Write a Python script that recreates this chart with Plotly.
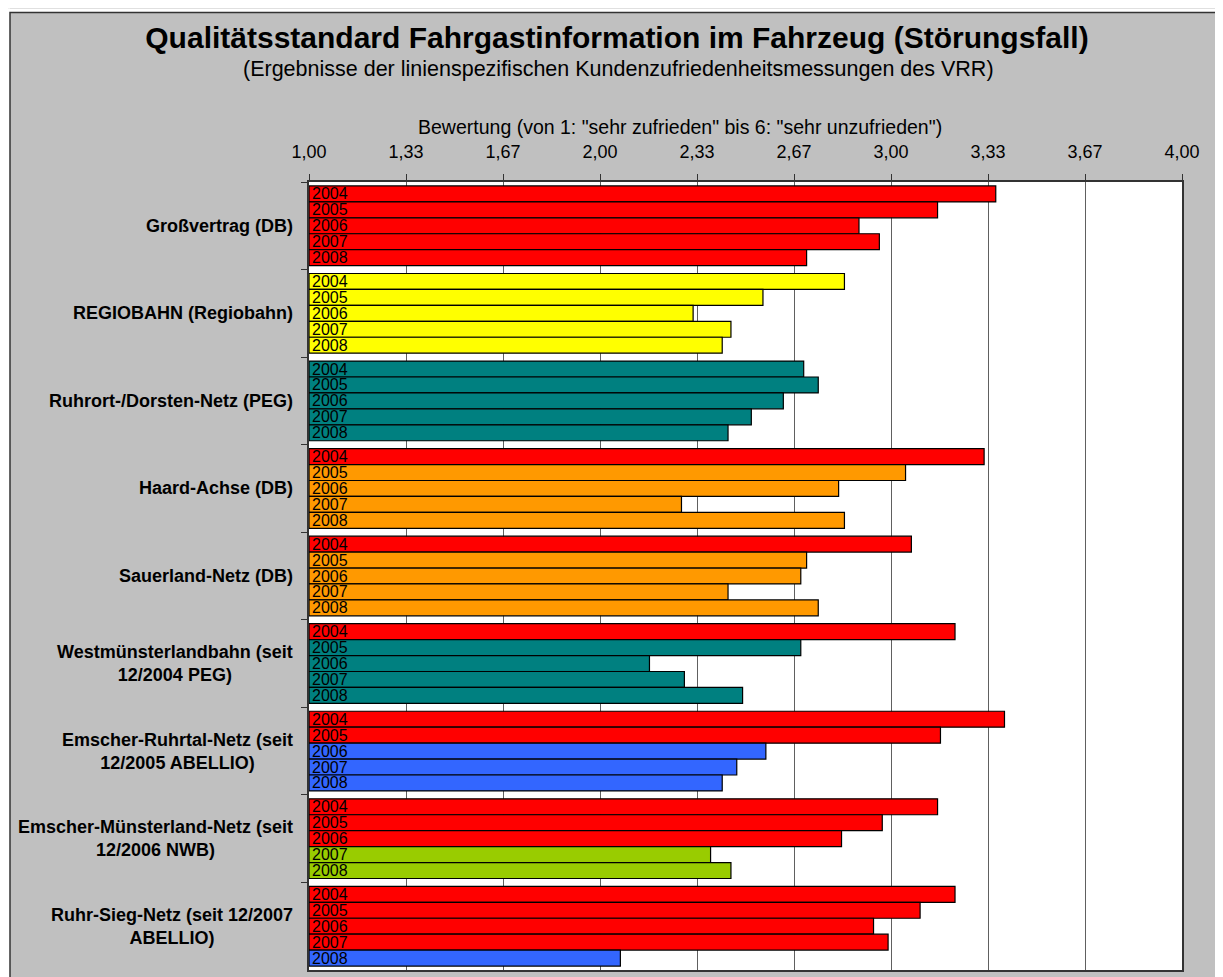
import plotly.graph_objs as go

#############
#   DATA    #
#############

groups = [
    "Großvertrag (DB)",
    "REGIOBAHN (Regiobahn)",
    "Ruhrort-/Dorsten-Netz (PEG)",
    "Haard-Achse (DB)",
    "Sauerland-Netz (DB)",
    "Westmünsterlandbahn (seit<br>12/2004 PEG)",
    "Emscher-Ruhrtal-Netz (seit<br>12/2005 ABELLIO)",
    "Emscher-Münsterland-Netz (seit<br>12/2006 NWB)",
    "Ruhr-Sieg-Netz (seit 12/2007<br>ABELLIO)",
]

years = ["2004", "2005", "2006", "2007", "2008"]

# one list per year, in the order of the groups
values_2004 = [3.36, 2.84, 2.70, 3.32, 3.07, 3.22, 3.39, 3.16, 3.22]
values_2005 = [3.16, 2.56, 2.75, 3.05, 2.71, 2.69, 3.17, 2.97, 3.10]
values_2006 = [2.89, 2.32, 2.63, 2.82, 2.69, 2.17, 2.57, 2.83, 2.94]
values_2007 = [2.96, 2.45, 2.52, 2.28, 2.44, 2.29, 2.47, 2.38, 2.99]
values_2008 = [2.71, 2.42, 2.44, 2.84, 2.75, 2.49, 2.42, 2.45, 2.07]

# operator of each bar (rows = groups, columns = years)
operators = [
    ["DB", "DB", "DB", "DB", "DB"],
    ["Regiobahn", "Regiobahn", "Regiobahn", "Regiobahn", "Regiobahn"],
    ["PEG", "PEG", "PEG", "PEG", "PEG"],
    ["DB", "DB neu", "DB neu", "DB neu", "DB neu"],
    ["DB", "DB neu", "DB neu", "DB neu", "DB neu"],
    ["DB", "PEG", "PEG", "PEG", "PEG"],
    ["DB", "DB", "ABELLIO", "ABELLIO", "ABELLIO"],
    ["DB", "DB", "DB", "NWB", "NWB"],
    ["DB", "DB", "DB", "DB", "ABELLIO"],
]

tick_values = [1, 4 / 3, 5 / 3, 2, 7 / 3, 8 / 3, 3, 10 / 3, 11 / 3, 4]
tick_labels = ["1,00", "1,33", "1,67", "2,00", "2,33", "2,67", "3,00", "3,33", "3,67", "4,00"]

title_text = "Qualitätsstandard Fahrgastinformation im Fahrzeug (Störungsfall)"
subtitle_text = "(Ergebnisse der linienspezifischen Kundenzufriedenheitsmessungen des VRR)"
axis_text = 'Bewertung (von 1: "sehr zufrieden" bis 6: "sehr unzufrieden")'

#############
#  STYLES   #
#############

operator_color = {
    "DB": "#FF0000",
    "DB neu": "#FF9900",
    "Regiobahn": "#FFFF00",
    "PEG": "#008080",
    "ABELLIO": "#3366FF",
    "NWB": "#99CC00",
}

FONT = "Liberation Sans, Arial, sans-serif"
GRAY = "#C0C0C0"

# figure size (the page adds an 8px body margin)
W, H = 1215, 969
ML, MR, MT, MB = 301, 41, 174, 5
plot_w = W - ML - MR
plot_h = H - MT - MB

def px_x(p):
    """figure pixel x -> paper coordinate"""
    return (p - ML) / plot_w

def px_y(p):
    """figure pixel y -> paper coordinate"""
    return (H - MB - p) / plot_h

#############
#  FIGURE   #
#############

fig = go.Figure()

all_values = [values_2004, values_2005, values_2006, values_2007, values_2008]

for i, year in enumerate(years):
    vals = all_values[i]
    fig.add_trace(
        go.Bar(
            y = groups,
            x = [v - 1 for v in vals],
            base = 1,
            orientation = "h",
            name = year,
            text = [year] * len(groups),
            textposition = "inside",
            insidetextanchor = "start",
            textangle = 0,
            constraintext = "none",
            textfont = {"family": FONT, "size": 16, "color": "black"},
            marker = {
                "color": [operator_color[row[i]] for row in operators],
                "line": {"color": "black", "width": 1.2},
            },
            showlegend = False,
            hoverinfo = "skip",
        )
    )

fig.update_layout(
    width = W,
    height = H,
    margin = {"l": ML, "r": MR, "t": MT, "b": MB},
    paper_bgcolor = GRAY,
    plot_bgcolor = "white",
    barmode = "group",
    bargap = 0.09,
    bargroupgap = 0,
    font = {"family": FONT, "color": "black"},
    title = {
        "text": "<b>" + title_text + "</b>",
        "x": 609 / W,
        "xanchor": "center",
        "y": 1 - 29 / H,
        "yanchor": "middle",
        "font": {"size": 30, "family": FONT, "color": "black"},
    },
)

fig.update_xaxes(
    range = [1, 4],
    side = "top",
    tickvals = tick_values,
    ticktext = tick_labels,
    tickfont = {"size": 18},
    ticks = "outside",
    ticklen = 6,
    tickcolor = "#333333",
    ticklabelstandoff = 9,
    showgrid = True,
    gridcolor = "#606060",
    gridwidth = 1,
    showline = True,
    mirror = True,
    linecolor = "#333333",
    linewidth = 2,
    zeroline = False,
    fixedrange = True,
)

fig.update_yaxes(
    type = "category",
    autorange = "reversed",
    showticklabels = False,
    ticks = "outside",
    tickson = "boundaries",
    ticklen = 6,
    tickcolor = "#333333",
    showgrid = False,
    showline = True,
    mirror = True,
    linecolor = "#333333",
    linewidth = 2,
    fixedrange = True,
)

# group labels left of the plot, centred lines
for g in groups:
    fig.add_annotation(
        x = 0,
        xref = "paper",
        xshift = -14,
        xanchor = "right",
        y = g,
        yref = "y",
        yanchor = "middle",
        text = "<b>" + g + "</b>",
        align = "center",
        showarrow = False,
        font = {"size": 18, "family": FONT, "color": "black"},
    )

# subtitle and axis caption
fig.add_annotation(
    x = px_x(610), xref = "paper", xanchor = "center",
    y = px_y(61), yref = "paper", yanchor = "middle",
    text = subtitle_text,
    showarrow = False,
    font = {"size": 21.5, "family": FONT, "color": "black"},
)
fig.add_annotation(
    x = px_x(672), xref = "paper", xanchor = "center",
    y = px_y(119), yref = "paper", yanchor = "middle",
    text = axis_text,
    showarrow = False,
    font = {"size": 19.5, "family": FONT, "color": "black"},
)

# white frame around the gray chart area, with a dark border
for x0, x1, y0, y1 in [
    (0, W, 0, 4),
    (0, 2, 0, H + 10),
    (1210, W + 5, 0, H + 10),
]:
    fig.add_shape(
        type = "rect", xref = "paper", yref = "paper",
        x0 = px_x(x0), x1 = px_x(x1), y0 = px_y(y1), y1 = px_y(y0),
        fillcolor = "white", line = {"width": 0}, layer = "above",
    )
fig.add_shape(
    type = "rect", xref = "paper", yref = "paper",
    x0 = px_x(2), x1 = px_x(1210), y0 = px_y(H + 10), y1 = px_y(4),
    fillcolor = "rgba(0,0,0,0)", line = {"color": "#333333", "width": 1.5},
    layer = "above",
)

fig.write_html("out.html")
